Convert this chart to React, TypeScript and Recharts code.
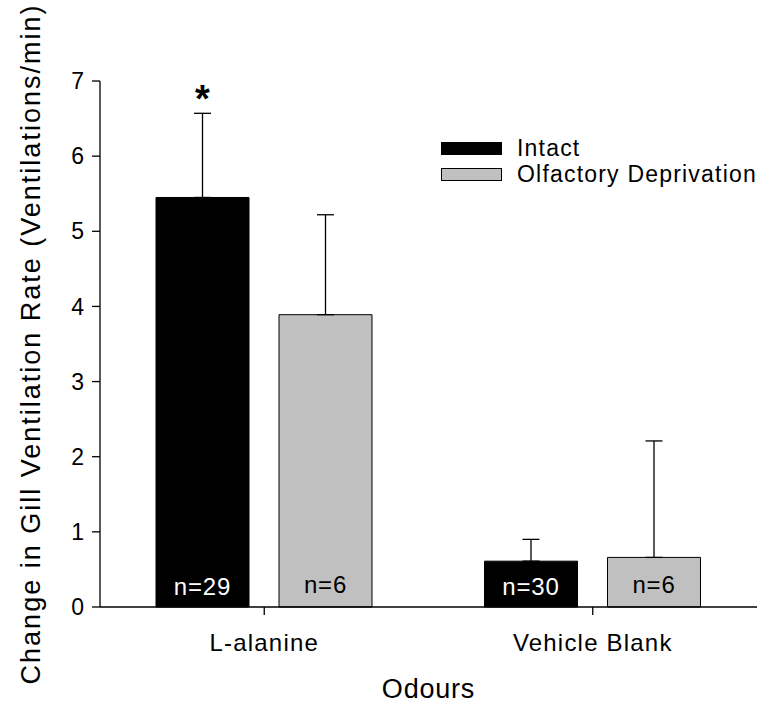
import React from "react";
import { Bar, BarChart, ErrorBar, LabelList, Legend, XAxis, YAxis } from "recharts";

const categories = ["L-alanine", "Vehicle Blank"];
const intactMean = [5.45, 0.61];
const intactErr = [1.12, 0.29];
const intactN = ["n=29", "n=30"];
const olfMean = [3.89, 0.66];
const olfErr = [1.33, 1.55];
const olfN = ["n=6", "n=6"];
const marks = ["*", ""];
const yTicks = [0, 1, 2, 3, 4, 5, 6, 7];

const FONT = "'Liberation Sans', Arial, sans-serif";
const GREY = "#c0c0c0";

const rows = categories.map((name, i) => ({
  name,
  intact: intactMean[i],
  intactErr: [0, intactErr[i]],
  intactN: intactN[i],
  mark: marks[i],
  olf: olfMean[i],
  olfErr: [0, olfErr[i]],
  olfN: olfN[i],
}));

function StarLabel(props: any) {
  const { x, y, width, height, index, value } = props;
  if (!value) return null;
  // pixels per unit from the bar itself, so the star sits on the error cap
  const perUnit = height / intactMean[index];
  const capY = y - intactErr[index] * perUnit;
  return (
    <text
      x={x + width / 2}
      y={capY - 1}
      textAnchor="middle"
      fontSize={38}
      fontWeight="bold"
      fontFamily={FONT}
      fill="#000"
    >
      {value}
    </text>
  );
}

function LegendBox({ payload }: any) {
  return (
    <div style={{ fontFamily: FONT, fontSize: 23, color: "#000", whiteSpace: "nowrap" }}>
      {(payload || []).map((p: any) => (
        <div key={p.value} style={{ display: "flex", alignItems: "center", height: 25.5 }}>
          <span
            style={{
              display: "inline-block",
              width: 59,
              height: 11,
              background: p.color,
              border: "1px solid #000",
              marginRight: 15,
              flex: "none",
            }}
          />
          <span style={{ letterSpacing: 1.2 }}>{p.value}</span>
        </div>
      ))}
    </div>
  );
}

export default function App() {
  return (
    <div style={{ width: 769, height: 712, background: "#fff" }}>
      <style>{"body{margin:0}"}</style>
      <BarChart
        width={769}
        height={712}
        data={rows}
        margin={{ top: 81, right: 12, left: 0, bottom: 0 }}
        barCategoryGap={56}
        barGap={30}
      >
        <XAxis
          dataKey="name"
          height={105}
          tickSize={8}
          tickMargin={19}
          tick={{ fill: "#000", fontSize: 24, fontFamily: FONT, letterSpacing: 1.2 }}
          axisLine={{ stroke: "#000", strokeWidth: 1.3 }}
          tickLine={{ stroke: "#000", strokeWidth: 1.3 }}
          label={{
            value: "Odours",
            position: "insideBottom",
            offset: 14,
            style: { fill: "#000", fontSize: 27, fontFamily: FONT, letterSpacing: 0.8 },
          }}
        />
        <YAxis
          width={100}
          domain={[0, 7]}
          ticks={yTicks}
          tickSize={8}
          tickMargin={8}
          tick={{ fill: "#000", fontSize: 23, fontFamily: FONT }}
          axisLine={{ stroke: "#000", strokeWidth: 1.3 }}
          tickLine={{ stroke: "#000", strokeWidth: 1.3 }}
          label={{
            value: "Change in Gill Ventilation Rate (Ventilations/min)",
            angle: -90,
            position: "center",
            dx: -20,
            dy: 0,
            style: { fill: "#000", fontSize: 27, fontFamily: FONT, letterSpacing: 2, textAnchor: "middle" },
          }}
        />
        <Legend
          layout="vertical"
          verticalAlign="middle"
          align="center"
          content={<LegendBox />}
          wrapperStyle={{ top: 136, left: 441, width: 320, height: 51 }}
        />
        <Bar dataKey="intact" name="Intact" fill="#000" stroke="#000" strokeWidth={1} isAnimationActive={false}>
          <ErrorBar dataKey="intactErr" direction="y" width={8.5} stroke="#000" strokeWidth={1.3} />
          <LabelList
            dataKey="intactN"
            position="insideBottom"
            offset={12}
            fill="#fff"
            style={{ fontSize: 24, fontFamily: FONT, letterSpacing: 0.8 }}
          />
          <LabelList dataKey="mark" content={<StarLabel />} />
        </Bar>
        <Bar dataKey="olf" name="Olfactory Deprivation" fill={GREY} stroke="#000" strokeWidth={1} isAnimationActive={false}>
          <ErrorBar dataKey="olfErr" direction="y" width={8.5} stroke="#000" strokeWidth={1.3} />
          <LabelList
            dataKey="olfN"
            position="insideBottom"
            offset={14}
            fill="#000"
            style={{ fontSize: 24, fontFamily: FONT, letterSpacing: 0.8 }}
          />
        </Bar>
      </BarChart>
    </div>
  );
}
